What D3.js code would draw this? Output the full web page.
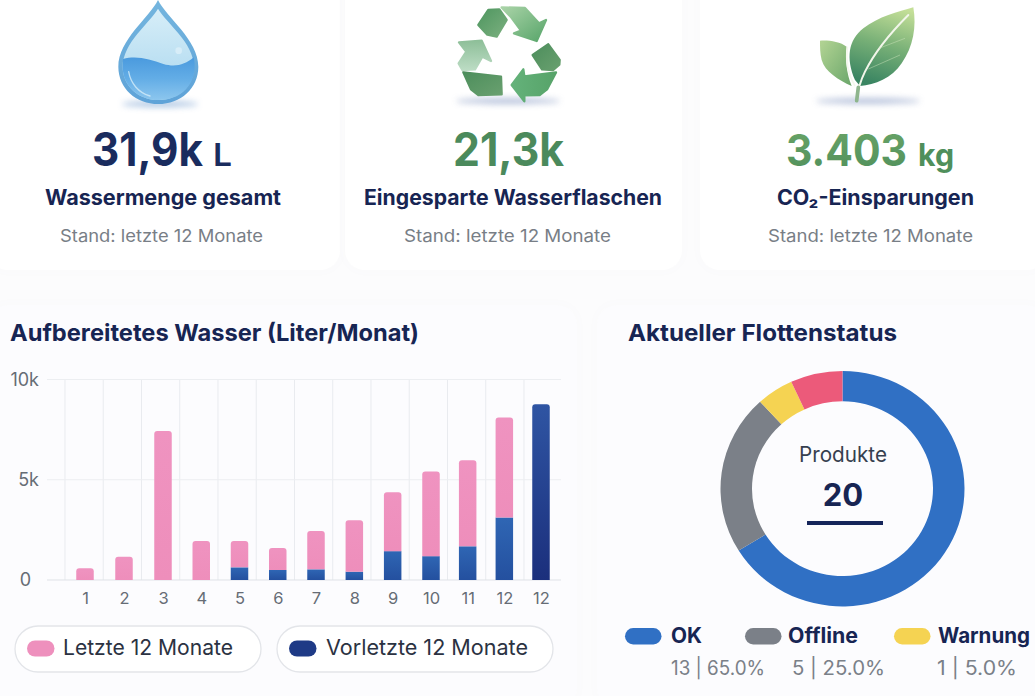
<!DOCTYPE html>
<html lang="de">
<head>
<meta charset="utf-8">
<title>Flottenübersicht</title>
<script src="https://cdn.jsdelivr.net/npm/d3@7"></script>
<style>
html,body{margin:0;padding:0;background:#fcfcfd;overflow:hidden}
svg{display:block;font-family:Inter,"Noto Sans",sans-serif}
</style>
</head>
<body>
<svg id="chart" width="1035" height="696" viewBox="0 0 1035 696"></svg>
<script>
// ---- data ----
const months = ["1","2","3","4","5","6","7","8","9","10","11","12","12"];
const last12Values = [580,1160,7430,1950,1320,1090,1910,2570,2940,4220,4290,4990,0];
const prev12Values = [0,0,0,0,630,500,530,415,1440,1190,1680,3120,8760];
const yTicks = [0,5000,10000];
const yTickLabels = ["0","5k","10k"];
const barLegend = ["Letzte 12 Monate","Vorletzte 12 Monate"];
const statusNames = ["OK","Offline","Warnung","Fehler"];
const statusShares = [66.2,22,4.9,6.9];   // slice sizes as drawn in the picture
const statusLabels = ["13 | 65.0%","5 | 25.0%","1 | 5.0%"];
const kpiValues = ["31,9k","21,3k","3.403"];
const kpiUnits = ["L","","kg"];
const kpiTitles = ["Wassermenge gesamt","Eingesparte Wasserflaschen","CO₂-Einsparungen"];
const kpiNote = "Stand: letzte 12 Monate";

const svg = d3.select("#chart");
const defs = svg.append("defs");
function grad(id, stops, x1=0,y1=0,x2=0,y2=1){
  const g = defs.append("linearGradient").attr("id",id)
    .attr("x1",x1).attr("y1",y1).attr("x2",x2).attr("y2",y2);
  stops.forEach(([o,c])=>g.append("stop").attr("offset",o).attr("stop-color",c));
}
grad("gDropBody",[[0,"#d7eef8"],[1,"#a9d6ee"]]);
grad("gWater",[[0,"#4a9ade"],[.5,"#63ade6"],[1,"#8cc6ee"]]);
grad("gDropEdge",[[0,"#74b5de"],[1,"#5fa3d8"]]);
grad("gLeaf",[[0,"#c4df98"],[.5,"#78b077"],[1,"#3a8562"]],.75,0,.5,1);
grad("gLeaf2",[[0,"#b3d494"],[1,"#6aa66a"]],0,0,1,1);
grad("gRecA",[[0,"#a9d3a7"],[1,"#58a56a"]],0,0,1,1);
grad("gRecB",[[0,"#4f9660"],[1,"#7bb07f"]],0,0,1,1);
grad("gRecC",[[0,"#4d8e5c"],[1,"#69a06f"]],0,0,1,1);
grad("gRecL",[[0,"#8ebf99"],[1,"#bcdcc4"]],0,0,0,1);
grad("gRecBot",[[0,"#57a369"],[1,"#64b27a"]],1,0,0,0);
grad("gKg",[[0,"#6aa568"],[1,"#4f8f5b"]]);
grad("gPink",[[0,"#ef93c0"],[1,"#ee8ebb"]]);
grad("gBlue",[[0,"#2f66b4"],[1,"#24509f"]]);
grad("gNavy",[[0,"#2f55a3"],[1,"#1b2f7c"]]);
defs.append("filter").attr("id","soft").attr("x","-30%").attr("y","-200%").attr("width","160%").attr("height","500%")
  .append("feGaussianBlur").attr("stdDeviation",3);
const cardShadow = defs.append("filter").attr("id","card").attr("x","-5%").attr("y","-5%").attr("width","110%").attr("height","110%");
cardShadow.append("feDropShadow").attr("dx",0).attr("dy",0).attr("stdDeviation",4).attr("flood-color","#8fa0b8").attr("flood-opacity",.025);

// ---- cards ----
const cards = svg.append("g");
[[-12,-20,352,290,"#ffffff"],[345,-20,337,290,"#ffffff"],[700,-20,347,290,"#ffffff"],
 [-12,305,589,403,"#fcfcfe"],[597,305,450,403,"#fcfcfe"]].forEach(([x,y,w,h,f])=>{
  cards.append("rect").attr("x",x).attr("y",y).attr("width",w).attr("height",h).attr("rx",20)
    .attr("fill",f).attr("filter","url(#card)");
});

// ---- KPI icons (3x-zoom coordinates, scaled down) ----
function icon(x){ return svg.append("g").attr("transform",`translate(${x},0) scale(${1/3})`); }
function poly(g,pts,fill){
  g.append("path").attr("d",d3.line().curve(d3.curveLinearClosed)(pts))
    .attr("fill",fill).attr("stroke",fill).attr("stroke-width",7).attr("stroke-linejoin","round");
}
svg.append("ellipse").attr("cx",160).attr("cy",104).attr("rx",38).attr("ry",3).attr("fill","#8fb0d8").attr("opacity",.75).attr("filter","url(#soft)");
svg.append("ellipse").attr("cx",508).attr("cy",101).attr("rx",52).attr("ry",3).attr("fill","#98a8cc").attr("opacity",.7).attr("filter","url(#soft)");
svg.append("ellipse").attr("cx",868).attr("cy",101).attr("rx",52).attr("ry",3).attr("fill","#98a8cc").attr("opacity",.7).attr("filter","url(#soft)");

const drop = icon(100);
const dropPath = "M174,0 C150,50 55,120 55,200 C55,265 108,312 175,312 C242,312 295,265 295,200 C295,120 198,50 174,0Z";
drop.append("path").attr("d",dropPath).attr("fill","url(#gDropEdge)");
drop.append("path").attr("d","M174,26 C152,66 68,128 68,200 C68,258 116,300 175,300 C234,300 282,258 282,200 C282,128 196,66 174,26Z").attr("fill","url(#gDropBody)");
drop.append("path").attr("d","M69,177 C110,165 150,178 190,192 C225,202 255,195 281,172 C288,200 284,240 258,268 C235,292 205,300 175,300 C116,300 68,258 68,200Z").attr("fill","url(#gWater)");
drop.append("path").attr("d","M86,215 C92,250 115,278 150,288").attr("fill","none").attr("stroke","#d4ecf9").attr("stroke-width",4).attr("stroke-linecap","round").attr("opacity",.8);
drop.append("circle").attr("cx",236).attr("cy",152).attr("r",10).attr("fill","#eaf6fc").attr("opacity",.55);

const rec = icon(445);
poly(rec,[[170,22],[240,24],[282,70],[303,60],[275,123],[207,100],[228,92],[197,50]],"url(#gRecA)");
poly(rec,[[130,30],[163,28],[185,60],[155,110],[127,104],[100,75]],"url(#gRecB)");
poly(rec,[[42,127],[110,122],[138,183],[112,170],[90,208],[52,210],[41,190],[64,155]],"url(#gRecL)");
poly(rec,[[55,217],[168,230],[170,283],[100,285],[78,268]],"url(#gRecC)");
poly(rec,[[333,217],[306,268],[284,285],[238,286],[238,304],[200,255],[235,208],[238,229]],"url(#gRecBot)");
poly(rec,[[310,133],[344,180],[343,194],[324,210],[291,208],[263,165]],"url(#gRecC)");

const leaf = icon(805);
leaf.append("path").attr("d","M45,122 C70,120 105,125 125,140 C120,180 125,220 140,258 C100,240 60,215 50,180 C45,160 45,140 45,122Z").attr("fill","url(#gLeaf2)");
leaf.append("path").attr("d","M150,240 C122,175 130,120 175,85 C220,50 280,35 325,22 C335,80 325,140 290,190 C260,235 210,255 165,258Z").attr("fill","url(#gLeaf)");
leaf.append("path").attr("d","M155,302 C158,270 165,245 180,215 C205,165 250,105 310,45").attr("fill","none").attr("stroke","#f2f6ea").attr("stroke-width",6).attr("stroke-linecap","round");
leaf.append("path").attr("d","M127,140 C122,180 130,225 150,258").attr("fill","none").attr("stroke","#f5f8ee").attr("stroke-width",5);
leaf.append("path").attr("d","M155,302 L160,262").attr("stroke","#8eb58d").attr("stroke-width",11).attr("stroke-linecap","round");
leaf.append("path").attr("d","M222,145 L300,115 M190,207 L285,165").attr("stroke","#cfe5bd").attr("stroke-width",2).attr("opacity",.7);

// ---- KPI text ----
function txt(x,y,s,o){
  const t = svg.append("text").attr("x",x).attr("y",y).text(s)
    .attr("font-size",o.size).attr("font-weight",o.weight||400)
    .attr("fill",o.fill).attr("text-anchor",o.anchor||"start");
  if(o.len){ t.attr("textLength",o.len).attr("lengthAdjust","spacingAndGlyphs"); }
  return t;
}
const navy = "#172553";
txt(92,166,kpiValues[0],{size:46,weight:700,fill:"#1a2c5e",len:111});
txt(213,166,kpiUnits[0],{size:31,weight:600,fill:"#1a2c5e",len:19});
txt(453,166,kpiValues[1],{size:46,weight:700,fill:"#4b8a5c",len:111});
txt(786,166,kpiValues[2],{size:44,weight:700,fill:"url(#gKg)",len:121});
txt(918,166,kpiUnits[2],{size:31,weight:700,fill:"#4f8f5b",len:36});
txt(45,205,kpiTitles[0],{size:21,weight:700,fill:navy,len:236});
txt(364,205,kpiTitles[1],{size:21,weight:700,fill:navy,len:298});
txt(777,205,kpiTitles[2],{size:21,weight:700,fill:navy,len:197});
txt(60,242,kpiNote,{size:17,fill:"#787e86",len:203});
txt(404,242,kpiNote,{size:17,fill:"#787e86",len:207});
txt(768,242,kpiNote,{size:17,fill:"#787e86",len:205});

// ---- bar chart ----
txt(10,341,"Aufbereitetes Wasser (Liter/Monat)",{size:23.5,weight:700,fill:navy,len:409});
txt(628,341,"Aktueller Flottenstatus",{size:23.5,weight:700,fill:navy,len:269});

const x = d3.scaleLinear().domain([0,2,6,9,12]).range([85,163,316,431,541]);
const y = d3.scaleLinear().domain([0,10000]).range([580,379.5]);
const gridX = d3.scaleLinear().domain([0,12]).range([65,524]);
const barW = 17.5;

const grid = svg.append("g");
grid.selectAll("line.v").data(d3.range(13)).join("line").attr("class","v")
  .attr("x1",gridX).attr("x2",gridX).attr("y1",y(10000)).attr("y2",y(0))
  .attr("stroke","#e9ebef").attr("stroke-width",1);
grid.selectAll("line.h").data(yTicks).join("line").attr("class","h")
  .attr("x1",47).attr("x2",561).attr("y1",y).attr("y2",y)
  .attr("stroke",d=>d===0?"#dfe2e7":"#eceef1").attr("stroke-width",1);

const rows = months.map((m,i)=>({i,prev:prev12Values[i],last:last12Values[i]}));
const stacked = d3.stack().keys(["prev","last"])(rows);
function barPath(i,lo,hi,round){
  const p = d3.path(), l = x(i)-barW/2, r = x(i)+barW/2, t = y(hi), b = y(lo), c = round?3:0;
  p.moveTo(l,b); p.lineTo(l,t+c);
  if(c) p.quadraticCurveTo(l,t,l+c,t);
  p.lineTo(r-c,t);
  if(c) p.quadraticCurveTo(r,t,r,t+c);
  p.lineTo(r,b); p.closePath();
  return p.toString();
}
stacked.forEach(layer=>{
  svg.append("g").selectAll("path").data(layer.filter(d=>d[1]>d[0])).join("path")
    .attr("d",d=>barPath(d.data.i,d[0],d[1],layer.key==="last"||d.data.last===0))
    .attr("fill",d=>layer.key==="last"?"url(#gPink)":(d.data.last===0?"url(#gNavy)":"url(#gBlue)"));
});

const xAxis = svg.append("g").attr("transform",`translate(0,${y(0)})`)
  .call(d3.axisBottom(x).tickValues(d3.range(months.length)).tickFormat(i=>months[i]).tickSize(0).tickPadding(12));
xAxis.select(".domain").remove();
xAxis.selectAll("text").attr("font-size",16.5).attr("fill","#666c75").attr("font-family","Inter");
const yAxis = svg.append("g").attr("transform","translate(39,0)")
  .call(d3.axisLeft(y).tickValues(yTicks).tickFormat((d,i)=>yTickLabels[i]).tickSize(0).tickPadding(0));
yAxis.select(".domain").remove();
yAxis.selectAll("text").attr("font-size",18).attr("fill","#666c75").attr("font-family","Inter")
  .attr("dx",d=>d===0?-8:0);

// bar legend
[[15,246,"#ee90bd",63,170],[277,276,"#1e3a86",326,202]].forEach((d,i)=>{
  svg.append("rect").attr("x",d[0]).attr("y",626).attr("width",d[1]).attr("height",46).attr("rx",23)
    .attr("fill","#fff").attr("stroke","#e3e5e9").attr("stroke-width",1.3);
  svg.append("rect").attr("x",d[0]+12).attr("y",640.5).attr("width",27.5).attr("height",16).attr("rx",8).attr("fill",d[2]);
  txt(d[3],655,barLegend[i],{size:21.5,fill:"#2b3242",len:d[4]});
});

// ---- donut ----
const statusColors = ["#3070c4","#7b8088","#f5d352","#ec5a7a"];
const pie = d3.pie().sort(null)(statusShares);
const arc = d3.arc().innerRadius(90.5).outerRadius(122);
svg.append("g").attr("transform","translate(842.5,488.7) scale(1,0.965)")
  .selectAll("path").data(pie).join("path").attr("d",arc).attr("fill",(d,i)=>statusColors[i]);
txt(843,462,"Produkte",{size:21,fill:"#36404f",anchor:"middle",len:88});
txt(843,506,"20",{size:31,weight:700,fill:navy,anchor:"middle"});
svg.append("rect").attr("x",807).attr("y",521).attr("width",76).attr("height",4).attr("fill","#15255a");

[[625,671,31,671,94],[745,788,70,792,93],[894,938,92,937,80]].forEach((d,i)=>{
  svg.append("rect").attr("x",d[0]).attr("y",628).attr("width",36.5).attr("height",16.5).attr("rx",8.2).attr("fill",statusColors[i]);
  txt(d[1],643,statusNames[i],{size:21,weight:700,fill:navy,len:d[2]});
  txt(d[3],675,statusLabels[i],{size:19.5,fill:"#7a8088",len:d[4]});
});
</script>
</body>
</html>
